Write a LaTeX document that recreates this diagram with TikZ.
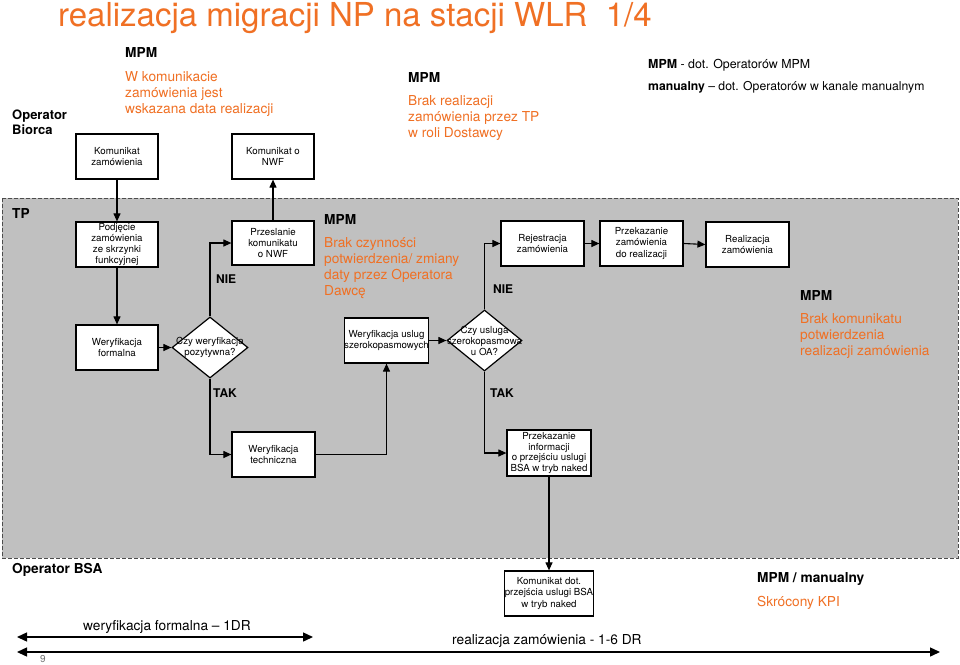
\documentclass[tikz,border=0pt]{standalone}
\usepackage{fontspec}
\setmainfont{TeX Gyre Heros}
\usetikzlibrary{arrows.meta,shapes.geometric}
\definecolor{org}{RGB}{240,112,36}
\definecolor{tpgray}{RGB}{192,192,192}
\newcommand\lblock[1]{\begin{tabular}[t]{@{}l@{}}#1\end{tabular}}
\begin{document}
\begin{tikzpicture}[x=1pt,y=-1pt,
  box/.style={draw=black, line width=1.2pt, fill=white, inner sep=0pt, align=center,
    minimum width=82pt, minimum height=45pt, font=\fontsize{9.7}{11.2}\selectfont},
  dia/.style={draw=black, line width=1.2pt, fill=white, shape=diamond, inner sep=0pt,
    minimum width=76pt, minimum height=61pt},
  dlab/.style={align=center, inner sep=0pt, font=\fontsize{9.7}{11}\selectfont},
  txt/.style={anchor=base west, inner sep=0pt, font=\fontsize{13.7}{16}\selectfont},
  btxt/.style={txt, font=\fontsize{13.7}{16}\selectfont\bfseries},
  otxt/.style={txt, text=org},
  arr/.style={line width=1.1pt, -{Triangle[length=8pt,width=7pt]}},
  darr/.style={line width=1.4pt, {Triangle[length=10pt,width=9pt]}-{Triangle[length=10pt,width=9pt]}},
]
\useasboundingbox (0,0) rectangle (960,664);
\fill[white] (0,0) rectangle (960,664);

% TP region
\draw[fill=tpgray, draw=black!70, dash pattern=on 4pt off 2pt, line width=0.8pt] (2,198) rectangle (958,558);

% title
\node[anchor=base west, inner sep=0pt, text=org, font=\fontsize{33}{37}\selectfont] (title) at (58,26) {realizacja migracji NP na stacji WLR\ \ 1/4};

% Operator Biorca area
\node[btxt, font=\fontsize{13}{15}\selectfont\bfseries] (ob) at (12,119) {\lblock{Operator\\Biorca}};
\node[btxt] (mpm1) at (125,57) {MPM};
\node[otxt] (o1) at (125,81) {\lblock{W komunikacie\\zamówienia jest\\wskazana data realizacji}};
\node[btxt] (mpm2) at (408,82) {MPM};
\node[otxt] (o2) at (408,105) {\lblock{Brak realizacji\\zamówienia przez TP\\w roli Dostawcy}};
\node[txt, font=\fontsize{12.4}{14}\selectfont] (leg1) at (648,68) {\textbf{MPM} - dot. Operatorów MPM};
\node[txt, font=\fontsize{12.2}{14}\selectfont] (leg2) at (648,90) {\textbf{manualny} -- dot. Operatorów w kanale manualnym};

\node[box] (kz) at (117,156.5) {Komunikat\\zamówienia};
\node[box] (kn) at (273,156.5) {Komunikat o\\NWF};

% TP area
\node[btxt] (tp) at (12,218) {TP};
\node[box, font=\fontsize{9.7}{10.7}\selectfont] (pz) at (117,244.5) {Podjęcie\\zamówienia\\ze skrzynki\\funkcyjnej};
\node[box, minimum height=44pt] (prz) at (273,243) {Przeslanie\\komunikatu\\o NWF};
\node[btxt] (mpm3) at (324,224) {MPM};
\node[otxt] (o3) at (324,247) {\lblock{Brak czynności\\potwierdzenia/ zmiany\\daty przez Operatora\\Dawcę}};
\node[box, minimum width=83pt] (rej) at (542.5,243.5) {Rejestracja\\zamówienia};
\node[box, minimum width=83pt] (prk) at (641.5,243.5) {Przekazanie\\zamówienia\\do realizacji};
\node[box, minimum width=83pt] (rea) at (747.5,244.5) {Realizacja\\zamówienia};
\node[btxt] (mpm4) at (800,300) {MPM};
\node[otxt] (o4) at (800,323) {\lblock{Brak komunikatu\\potwierdzenia\\realizacji zamówienia}};

\node[btxt, font=\fontsize{12}{14}\selectfont\bfseries] (nie1) at (216,283) {NIE};
\node[btxt, font=\fontsize{12}{14}\selectfont\bfseries] (nie2) at (493,293) {NIE};
\node[btxt, font=\fontsize{12}{14}\selectfont\bfseries] (tak1) at (213,397) {TAK};
\node[btxt, font=\fontsize{12}{14}\selectfont\bfseries] (tak2) at (490,397) {TAK};

\node[box] (wf) at (117,347.5) {Weryfikacja\\formalna};
\node[dia, label={[dlab]center:Czy weryfikacja\\pozytywna?}] (d1) at (210,347.5) {};
\node[box, minimum width=83pt] (wu) at (386.5,340.5) {Weryfikacja uslug\\szerokopasmowych};
\node[dia, minimum width=75pt, label={[dlab]center:Czy usluga\\szerokopasmowa\\u OA?}] (d2) at (484.5,340.5) {};
\node[box, minimum width=83pt] (wt) at (273.5,454.5) {Weryfikacja\\techniczna};
\node[box, minimum width=84pt, minimum height=46pt, font=\fontsize{9.7}{10.7}\selectfont] (pi) at (549,453) {Przekazanie\\informacji\\o przejściu uslugi\\BSA w tryb naked};

% Operator BSA
\node[btxt] (obsa) at (12,573) {Operator BSA};
\node[box, minimum width=83pt] (kd) at (549,593.5) {Komunikat dot.\\przejścia uslugi BSA\\w tryb naked};
\node[btxt] (mpm5) at (757,582) {MPM / manualny};
\node[otxt] (o5) at (757,606) {Skrócony KPI};

% connectors
\draw[arr] (kz.south) -- (pz.north);
\draw[arr] (pz.south) -- (wf.north);
\draw[arr] (wf.east) -- (d1.west);
\draw[arr] (d1.north) |- (prz.west);
\draw[arr] (prz.north) -- (kn.south);
\draw[arr] (d1.south) |- (wt.west);
\draw[arr] (wt.east) -| (wu.south);
\draw[arr] (wu.east) -- (d2.west);
\draw[arr] (d2.north) |- (rej.west);
\draw[arr] (rej.east) -- (prk.west);
\draw[arr] (prk.east) -- (rea.west);
\draw[arr] (d2.south) |- (pi.west);
\draw[arr] (pi.south) -- (kd.north);

% time lines
\node[txt] (t1) at (83,630) {weryfikacja formalna -- 1DR};
\coordinate (t1a) at (17,637);
\coordinate (t1b) at (313,637);
\draw[darr] (t1a) -- (t1b);
\node[txt] (t2) at (452,644) {realizacja zamówienia - 1-6 DR};
\coordinate (t2a) at (17,652);
\coordinate (t2b) at (940,652);
\draw[darr] (t2a) -- (t2b);
\node[txt, text=black!55, font=\fontsize{10}{12}\selectfont] (pg) at (40,662) {9};
\end{tikzpicture}
\end{document}
